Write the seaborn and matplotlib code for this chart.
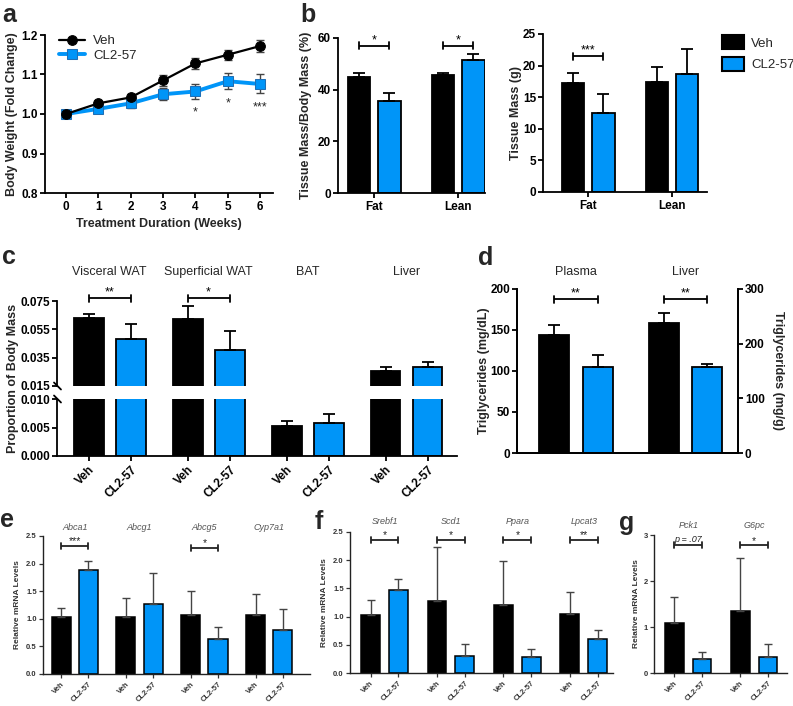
import numpy as np
import pandas as pd
import matplotlib
matplotlib.use("Agg")
import matplotlib.pyplot as plt
import matplotlib.transforms as mtransforms
from matplotlib.patches import Patch
import seaborn as sns

# ---------------- data ----------------
GROUPS = ["Veh", "CL2-57"]

weeks = [0, 1, 2, 3, 4, 5, 6]
veh_bw = [1.000, 1.027, 1.042, 1.085, 1.128, 1.150, 1.172]
veh_bw_err = [0.004, 0.006, 0.008, 0.015, 0.015, 0.013, 0.016]
cl_bw = [1.000, 1.013, 1.027, 1.050, 1.057, 1.083, 1.076]
cl_bw_err = [0.004, 0.010, 0.012, 0.015, 0.018, 0.020, 0.024]
bw_sig_weeks = [4, 5, 6]
bw_sig_labels = ["*", "*", "***"]

comp = ["Fat", "Lean"]
pct_veh = [45.0, 45.5]
pct_veh_err = [1.3, 1.0]
pct_cl = [35.5, 51.5]
pct_cl_err = [3.3, 2.2]
pct_sig = ["*", "*"]

mass_veh = [17.2, 17.4]
mass_veh_err = [1.6, 2.4]
mass_cl = [12.5, 18.6]
mass_cl_err = [3.0, 4.0]
mass_sig = ["***", None]

tissues = ["Visceral WAT", "Superficial WAT", "BAT", "Liver"]
prop_veh = [0.0627, 0.0620, 0.0053, 0.0259]
prop_veh_err = [0.0033, 0.0097, 0.0009, 0.0026]
prop_cl = [0.0483, 0.0403, 0.0058, 0.0285]
prop_cl_err = [0.0102, 0.0137, 0.0016, 0.0033]
prop_sig = ["**", "*", None, None]

tg_sites = ["Plasma", "Liver"]
tg_plasma_veh, tg_plasma_veh_err = [143.5], [12.2]
tg_plasma_cl, tg_plasma_cl_err = [105.3], [13.7]
tg_liver_veh, tg_liver_veh_err = [237.0], [19.0]
tg_liver_cl, tg_liver_cl_err = [157.0], [6.0]
tg_sig = ["**", "**"]

genes_e = ["Abca1", "Abcg1", "Abcg5", "Cyp7a1"]
e_veh = [1.04, 1.04, 1.06, 1.06]
e_veh_err = [0.16, 0.34, 0.45, 0.39]
e_cl = [1.88, 1.27, 0.63, 0.79]
e_cl_err = [0.16, 0.56, 0.23, 0.39]
e_sig = ["***", None, "*", None]

genes_f = ["Srebf1", "Scd1", "Ppara", "Lpcat3"]
f_veh = [1.03, 1.28, 1.20, 1.05]
f_veh_err = [0.26, 0.96, 0.78, 0.38]
f_cl = [1.47, 0.31, 0.28, 0.61]
f_cl_err = [0.19, 0.21, 0.14, 0.16]
f_sig = ["*", "*", "*", "**"]

genes_g = ["Pck1", "G6pc"]
g_veh = [1.09, 1.35]
g_veh_err = [0.57, 1.14]
g_cl = [0.31, 0.35]
g_cl_err = [0.15, 0.27]
g_sig = ["p = .07", "*"]

# ---------------- style ----------------
sns.set_theme(style="ticks")
plt.rcParams["font.family"] = ["Liberation Sans", "DejaVu Sans"]
plt.rcParams["font.weight"] = "bold"
plt.rcParams["axes.labelweight"] = "bold"
plt.rcParams["axes.linewidth"] = 1.3
plt.rcParams["xtick.major.width"] = 1.3
plt.rcParams["ytick.major.width"] = 1.3
plt.rcParams["xtick.major.size"] = 3.5
plt.rcParams["ytick.major.size"] = 3.5
plt.rcParams["xtick.major.pad"] = 2
plt.rcParams["ytick.major.pad"] = 1.5
plt.rcParams["axes.edgecolor"] = "black"
plt.rcParams["xtick.color"] = "black"
plt.rcParams["ytick.color"] = "black"

BLUE = "#0095F8"
PAL = {"Veh": "black", "CL2-57": BLUE}

W, H = 793, 706
fig = plt.figure(figsize=(W / 100, H / 100), dpi=100)
fig.patch.set_facecolor("white")


def add_ax(l, t, r, b):
    ax = fig.add_axes([l / W, 1 - b / H, (r - l) / W, (b - t) / H])
    ax._px = (l, t, r, b)
    return ax


def ylabel_px(ax, text, xpx, size, **kw):
    l, t, r, b = ax._px
    ax.set_ylabel(text, fontsize=size, va="center", **kw)
    ax.yaxis.set_label_coords((xpx - l) / (r - l), 0.5)


def draw_bars(ax, cats, veh, veh_err, cl, cl_err, width, gap, lw=1.3,
              ecolor="black", elw=1.3, capw=4, order=None):
    n = len(cats)
    df = pd.DataFrame({"cat": list(cats) * 2,
                       "grp": ["Veh"] * n + ["CL2-57"] * n,
                       "val": list(veh) + list(cl),
                       "err": list(veh_err) + list(cl_err)})
    order = order or list(cats)
    sns.barplot(data=df, x="cat", y="val", hue="grp", order=order,
                hue_order=GROUPS, palette=PAL, width=width, gap=gap,
                edgecolor="black", linewidth=lw, saturation=1,
                errorbar=None, legend=False, ax=ax)
    bars = sorted(ax.patches, key=lambda p: p.get_x())
    df["ci"] = df["cat"].map(order.index)
    df["gi"] = df["grp"].map(GROUPS.index)
    df = df.sort_values(["ci", "gi"]).reset_index(drop=True)
    df["x"] = [p.get_x() + p.get_width() / 2 for p in bars]
    ax.errorbar(df["x"], df["val"], yerr=[np.zeros(len(df)), df["err"]],
                fmt="none", ecolor=ecolor, elinewidth=elw, capsize=capw,
                capthick=elw, zorder=1)
    ax.set_xlabel("")
    ax.set_ylabel("")
    return df


def sig(ax, x1, x2, y, text, fs, color="black", lw=1.3, cap_px=3.5,
        gap_px=2.0, style="normal"):
    l, t, r, b = ax._px
    y0, y1 = ax.get_ylim()
    dpp = (y1 - y0) / (b - t)
    ax.plot([x1, x2], [y, y], color=color, lw=lw, clip_on=False,
            solid_capstyle="butt")
    for xx in (x1, x2):
        ax.plot([xx, xx], [y - cap_px * dpp, y + cap_px * dpp], color=color,
                lw=lw, clip_on=False)
    ax.annotate(text, ((x1 + x2) / 2, y), xytext=(0, gap_px),
                textcoords="offset pixels", ha="center", va="baseline",
                fontsize=fs, color=color, fontweight="normal",
                fontstyle=style, annotation_clip=False)


def letter(txt, x, y):
    fig.text(x / W, 1 - y / H, txt, fontsize=18, fontweight="bold",
             va="baseline", ha="left")


def title_at(ax, x, ypx, text, fs, **kw):
    tr = mtransforms.blended_transform_factory(ax.transData, fig.transFigure)
    ax.text(x, 1 - ypx / H, text, transform=tr, ha="center", va="center",
            fontsize=fs, clip_on=False, **kw)


TICK = 8.5
LAB = 9

# ---------------- panel a ----------------
axA = add_ax(45, 35, 273, 193)
df_bw = pd.DataFrame({"week": weeks * 2, "bw": veh_bw + cl_bw,
                      "grp": ["Veh"] * 7 + ["CL2-57"] * 7})
axA.errorbar(weeks, veh_bw, yerr=veh_bw_err, fmt="none", ecolor="#444444",
             elinewidth=1.0, capsize=3, capthick=1.0, zorder=1)
axA.errorbar(weeks, cl_bw, yerr=cl_bw_err, fmt="none", ecolor="#444444",
             elinewidth=1.0, capsize=3, capthick=1.0, zorder=1)
sns.lineplot(data=df_bw[df_bw.grp == "Veh"], x="week", y="bw", color="black",
             marker="o", markersize=7, linewidth=1.6, markeredgecolor="black",
             ax=axA, label="Veh", zorder=3)
sns.lineplot(data=df_bw[df_bw.grp == "CL2-57"], x="week", y="bw", color=BLUE,
             marker="s", markersize=7, linewidth=2.8, markeredgecolor="#1f6fb5",
             markerfacecolor=BLUE, ax=axA, label="CL2-57", zorder=2)
axA.set_xlim(-0.65, 6.4)
axA.set_ylim(0.8, 1.2)
axA.set_xticks(weeks)
axA.set_yticks([0.8, 0.9, 1.0, 1.1, 1.2])
axA.set_yticklabels(["0.8", "0.9", "1.0", "1.1", "1.2"])
axA.tick_params(labelsize=TICK)
axA.set_xlabel("Treatment Duration (Weeks)", fontsize=LAB, labelpad=4)
ylabel_px(axA, "Body Weight (Fold Change)", 12, LAB)
sns.despine(ax=axA)
axA.legend(loc="upper left", bbox_to_anchor=(0.06, 1.0), frameon=False,
           prop={"size": 9.5, "weight": "normal"}, handlelength=2.0,
           labelspacing=0.2, borderaxespad=0, borderpad=0, handletextpad=0.6)
for w, lab in zip(bw_sig_weeks, bw_sig_labels):
    i = weeks.index(w)
    axA.annotate(lab, (w, cl_bw[i] - cl_bw_err[i]), xytext=(0, -17),
                 textcoords="offset pixels", ha="center", va="baseline",
                 fontsize=9, fontweight="normal")

# ---------------- panel b ----------------
axB1 = add_ax(338, 38, 485, 193)
dB1 = draw_bars(axB1, comp, pct_veh, pct_veh_err, pct_cl, pct_cl_err,
                width=0.72, gap=0.25)
axB1.set_xlim(-0.43, 1.32)
axB1.set_ylim(0, 60)
axB1.set_yticks([0, 20, 40, 60])
axB1.set_xticks([0, 1])
axB1.set_xticklabels(comp)
axB1.tick_params(labelsize=TICK)
ylabel_px(axB1, "Tissue Mass/Body Mass (%)", 306, LAB)
sns.despine(ax=axB1)
for i, s in enumerate(pct_sig):
    if s:
        sig(axB1, dB1.x[2 * i], dB1.x[2 * i + 1], 57, s, 9, gap_px=2.5)

axB2 = add_ax(543, 34, 707, 192)
dB2 = draw_bars(axB2, comp, mass_veh, mass_veh_err, mass_cl, mass_cl_err,
                width=0.72, gap=0.25)
axB2.set_xlim(-0.54, 1.42)
axB2.set_ylim(0, 25)
axB2.set_yticks([0, 5, 10, 15, 20, 25])
axB2.set_xticks([0, 1])
axB2.set_xticklabels(comp)
axB2.tick_params(labelsize=TICK)
ylabel_px(axB2, "Tissue Mass (g)", 516, LAB)
sns.despine(ax=axB2)
for i, s in enumerate(mass_sig):
    if s:
        sig(axB2, dB2.x[2 * i], dB2.x[2 * i + 1], 21.5, s, 9, gap_px=2.5)

fig.legend(handles=[Patch(fc="black", ec="black", lw=1.5, label="Veh"),
                    Patch(fc=BLUE, ec="black", lw=1.5, label="CL2-57")],
           loc="upper left", bbox_to_anchor=(722 / W, 1 - 35 / H),
           frameon=False, prop={"size": 9.5, "weight": "normal"},
           handlelength=1.7, handleheight=1.3, labelspacing=0.55,
           handletextpad=0.5, borderaxespad=0, borderpad=0)

# ---------------- panel c ----------------
axCt = add_ax(57, 301, 457, 386)
axCb = add_ax(57, 399, 457, 456)
dCt = draw_bars(axCt, tissues, prop_veh, prop_veh_err, prop_cl, prop_cl_err,
                width=0.85, gap=0.29)
dCb = draw_bars(axCb, tissues, prop_veh, prop_veh_err, prop_cl, prop_cl_err,
                width=0.85, gap=0.29)
for ax in (axCt, axCb):
    ax.set_xlim(-0.533, 3.51)
    ax.tick_params(labelsize=TICK)
axCt.set_ylim(0.015, 0.075)
axCt.set_yticks([0.015, 0.035, 0.055, 0.075])
axCt.set_yticklabels(["0.015", "0.035", "0.055", "0.075"])
axCt.set_xticks([])
sns.despine(ax=axCt, bottom=True)
axCb.set_ylim(0, 0.010)
axCb.set_yticks([0, 0.005, 0.010])
axCb.set_yticklabels(["0.000", "0.005", "0.010"])
axCb.set_xticks(dCb.x)
axCb.set_xticklabels(list(dCb.grp), rotation=45, ha="right",
                     rotation_mode="anchor")
sns.despine(ax=axCb)
fig.text(13 / W, 1 - 378 / H, "Proportion of Body Mass", rotation=90,
         ha="center", va="center", fontsize=LAB, fontweight="bold")
for i, tname in enumerate(tissues):
    title_at(axCt, i, 272, tname, 9, fontweight="normal")
    if prop_sig[i]:
        sig(axCt, dCt.x[2 * i], dCt.x[2 * i + 1], 0.0769, prop_sig[i], 9,
            gap_px=2.5)
# axis break marks
for ypx in (386, 399):
    fig.add_artist(plt.Line2D([54 / W, 61 / W],
                              [1 - (ypx - 3.5) / H, 1 - (ypx + 3.5) / H],
                              color="black", lw=1.3))

# ---------------- panel d ----------------
axD = add_ax(517, 289, 738, 453)
axD2 = axD.twinx()
axD2._px = axD._px
dD1 = draw_bars(axD, ["Plasma"], tg_plasma_veh, tg_plasma_veh_err,
                tg_plasma_cl, tg_plasma_cl_err, width=0.8, gap=0.31,
                order=tg_sites)
dD2 = draw_bars(axD2, ["Liver"], tg_liver_veh, tg_liver_veh_err,
                tg_liver_cl, tg_liver_cl_err, width=0.8, gap=0.31,
                order=tg_sites)
for ax in (axD, axD2):
    ax.set_xlim(-0.54, 1.48)
    ax.tick_params(labelsize=TICK)
axD.set_ylim(0, 200)
axD.set_yticks([0, 50, 100, 150, 200])
axD2.set_ylim(0, 300)
axD2.set_yticks([0, 100, 200, 300])
xD = list(dD1.x) + list(dD2.x)
axD.set_xticks(xD)
axD.set_xticklabels(["Veh", "CL2-57", "Veh", "CL2-57"], rotation=45,
                    ha="right", rotation_mode="anchor")
axD2.set_xticks([])
for ax in (axD, axD2):
    ax.spines["top"].set_visible(False)
ylabel_px(axD, "Triglycerides (mg/dL)", 484, LAB)
axD2.set_ylabel("Triglycerides (mg/g)", fontsize=LAB, rotation=270,
                va="center")
axD2.yaxis.set_label_coords((778 - 517) / (738 - 517), 0.5)
sig(axD, dD1.x[0], dD1.x[1], 187.8, tg_sig[0], 9, gap_px=2.5)
sig(axD, dD2.x[0], dD2.x[1], 187.8, tg_sig[1], 9, gap_px=2.5)
title_at(axD, 0, 272, "Plasma", 9, fontweight="normal")
title_at(axD, 1, 272, "Liver", 9, fontweight="normal")

# ---------------- panels e, f, g ----------------
GREY = "#333333"
STICK = 5.5


def gene_panel(px, genes, veh, veh_err, cl, cl_err, sigs, xlim, ylim, yticks,
               ytl, ylab_x, title_y, sig_y, width, gap):
    ax = add_ax(*px)
    d = draw_bars(ax, genes, veh, veh_err, cl, cl_err, width=width, gap=gap,
                  lw=1.1, ecolor="#444444", elw=1.0, capw=3)
    ax.set_xlim(*xlim)
    ax.set_ylim(*ylim)
    ax.set_yticks(yticks)
    ax.set_yticklabels(ytl)
    ax.set_xticks(d.x)
    ax.set_xticklabels(list(d.grp), rotation=45, ha="right",
                       rotation_mode="anchor")
    ax.tick_params(labelsize=STICK, width=0.9, length=3, colors=GREY,
                   labelcolor=GREY)
    for s in ax.spines.values():
        s.set_linewidth(1.0)
        s.set_color("#222222")
    sns.despine(ax=ax)
    ylabel_px(ax, "Relative mRNA Levels", ylab_x, 6, color=GREY)
    for i, gname in enumerate(genes):
        title_at(ax, i, title_y, gname, 6.5, fontstyle="italic",
                 fontweight="normal", color="#555555")
        if sigs[i]:
            is_p = sigs[i].startswith("p")
            sig(ax, d.x[2 * i], d.x[2 * i + 1], sig_y[i], sigs[i],
                6.5 if is_p else 7.5, color="#222222", lw=1.3, cap_px=3,
                gap_px=3.5 if is_p else 1.5,
                style="italic" if is_p else "normal")
    return ax


gene_panel((43, 536, 310, 674), genes_e, e_veh, e_veh_err, e_cl, e_cl_err,
           e_sig, (-0.49, 3.63), (0, 2.5), [0, 0.5, 1.0, 1.5, 2.0, 2.5],
           ["0.0", "0.5", "1.0", "1.5", "2.0", "2.5"], 18, 527,
           [2.32, None, 2.29, None], 0.84, 0.30)
gene_panel((350, 532, 613, 673), genes_f, f_veh, f_veh_err, f_cl, f_cl_err,
           f_sig, (-0.52, 3.44), (0, 2.5), [0, 0.5, 1.0, 1.5, 2.0, 2.5],
           ["0.0", "0.5", "1.0", "1.5", "2.0", "2.5"], 325, 522,
           [2.36, 2.36, 2.36, 2.36], 0.84, 0.32)
gene_panel((654, 535, 787, 673), genes_g, g_veh, g_veh_err, g_cl, g_cl_err,
           g_sig, (-0.52, 1.5), (0, 3), [0, 1, 2, 3],
           ["0", "1", "2", "3"], 637, 525, [2.78, 2.78], 0.84, 0.33)

# ---------------- panel letters ----------------
letter("a", 2, 22)
letter("b", 300, 22)
letter("c", 2, 264)
letter("d", 478, 265)
letter("e", 0, 527)
letter("f", 315, 529)
letter("g", 619, 530)

fig.savefig("out.png", dpi=100, facecolor="white")
